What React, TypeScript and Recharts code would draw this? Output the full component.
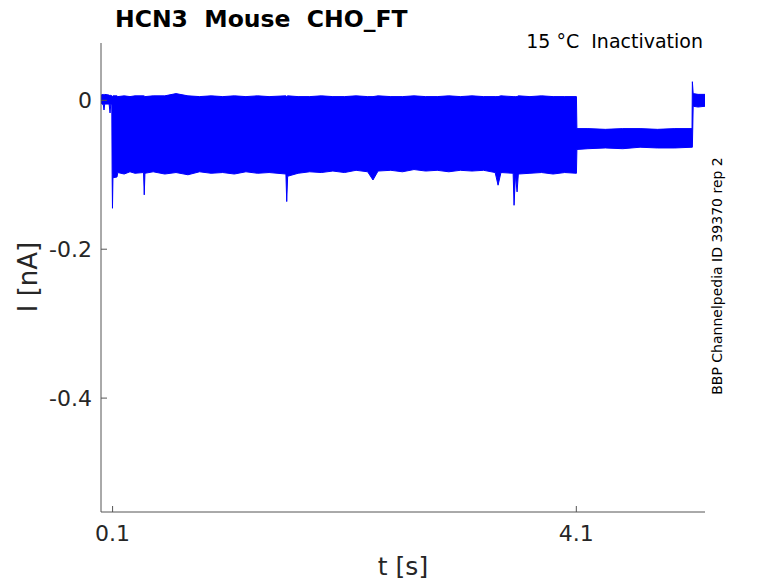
import { ComposedChart, Area, XAxis, YAxis } from 'recharts';

// Envelope of all sweeps (min / max current).
const timeS = [
  0.0, 0.02, 0.026, 0.032, 0.07, 0.078, 0.084, 0.093,
  0.096, 0.099, 0.103, 0.138, 0.145, 0.2, 0.25, 0.293, 0.367, 0.373, 0.379,
  0.45, 0.55, 0.647, 0.75, 0.85, 0.95, 1.05, 1.15, 1.25, 1.35, 1.45, 1.595,
  1.602, 1.61, 1.7, 1.8, 1.9, 2.0, 2.1, 2.2, 2.3, 2.346, 2.39, 2.5, 2.6,
  2.7, 2.8, 2.9, 3.0, 3.1, 3.2, 3.3, 3.4, 3.425, 3.45, 3.555, 3.563, 3.575,
  3.589, 3.6, 3.7, 3.8, 3.9, 4.0, 4.101,
  4.105, 4.2, 4.35, 4.5, 4.65, 4.8, 4.95, 5.098,
  5.101, 5.108, 5.15, 5.21,
];

const lowerNA = [
  -0.004, -0.006, -0.013, -0.005, -0.005, -0.017, -0.006, -0.005,
  -0.1, -0.145, -0.104, -0.103, -0.097, -0.099, -0.096, -0.098, -0.097, -0.127, -0.098,
  -0.096, -0.099, -0.097, -0.1, -0.096, -0.098, -0.097, -0.099, -0.096, -0.098, -0.097, -0.099,
  -0.136, -0.102, -0.098, -0.096, -0.097, -0.095, -0.097, -0.094, -0.096, -0.107, -0.095, -0.094, -0.096,
  -0.093, -0.095, -0.094, -0.096, -0.094, -0.095, -0.094, -0.097, -0.114, -0.097, -0.098, -0.141, -0.1,
  -0.123, -0.099, -0.098, -0.097, -0.099, -0.097, -0.098,
  -0.066, -0.065, -0.064, -0.065, -0.063, -0.064, -0.064, -0.063,
  -0.063, -0.008, -0.009, -0.008,
];

const upperNA = [
  0.007, 0.008, 0.007, 0.008, 0.007, 0.006, 0.007, 0.006,
  0.005, 0.005, 0.006, 0.006, 0.005, 0.006, 0.005, 0.006, 0.006, 0.006, 0.005,
  0.006, 0.006, 0.009, 0.006, 0.005, 0.006, 0.005, 0.006, 0.005, 0.006, 0.005, 0.006,
  0.005, 0.006, 0.005, 0.005, 0.006, 0.005, 0.005, 0.006, 0.005, 0.005, 0.006, 0.005, 0.005,
  0.006, 0.005, 0.005, 0.006, 0.005, 0.006, 0.005, 0.005, 0.005, 0.006, 0.005, 0.005, 0.005,
  0.005, 0.006, 0.005, 0.006, 0.005, 0.005, 0.005,
  -0.038, -0.038, -0.039, -0.038, -0.038, -0.039, -0.038, -0.038,
  0.025, 0.009, 0.008, 0.008,
];

const xTicks = [0.1, 4.1];
const yTicks = [-0.4, -0.2, 0];

const FONT = 'DejaVu Sans';
const AXIS = '#555555';
const TEXT = '#262626';

const traceData = timeS.map((t, i) => ({ t, band: [lowerNA[i], upperNA[i]] }));

export default function App() {
  return (
    <div style={{ position: 'absolute', left: 0, top: 0, width: 778, height: 583, background: '#fff' }}>
      <ComposedChart
        width={778}
        height={583}
        data={traceData}
        margin={{ top: 43, right: 73, left: 0, bottom: 0 }}
      >
        <XAxis
          dataKey="t"
          type="number"
          domain={[0, 5.21]}
          allowDataOverflow
          ticks={xTicks}
          height={71}
          tickSize={-6}
          tickMargin={19}
          axisLine={{ stroke: AXIS }}
          tickLine={{ stroke: AXIS }}
          tick={{ fill: TEXT, fontSize: 22, fontFamily: FONT }}
        />
        <YAxis
          type="number"
          domain={[-0.553, 0.077]}
          allowDataOverflow
          ticks={yTicks}
          width={101}
          tickSize={-6}
          tickMargin={15}
          axisLine={{ stroke: AXIS }}
          tickLine={{ stroke: AXIS }}
          tick={{ fill: TEXT, fontSize: 22, fontFamily: FONT }}
        />
        <Area
          dataKey="band"
          type="linear"
          stroke="#0000ff"
          strokeWidth={1}
          fill="#0000ff"
          fillOpacity={1}
          dot={false}
          activeDot={false}
          isAnimationActive={false}
        />
      </ComposedChart>
      <svg
        width={778}
        height={583}
        style={{ position: 'absolute', left: 0, top: 0, pointerEvents: 'none' }}
        fontFamily={FONT}
      >
        <text x={115} y={27} fontSize={23.5} fontWeight="bold" fill="#000" style={{ whiteSpace: 'pre' }}>
          HCN3  Mouse  CHO_FT
        </text>
        <text x={703} y={48} fontSize={19} textAnchor="end" fill="#000" style={{ whiteSpace: 'pre' }}>
          15 °C  Inactivation
        </text>
        <text
          x={37}
          y={277}
          fontSize={26}
          textAnchor="middle"
          fill={TEXT}
          transform="rotate(-90 37 277)"
        >
          I [nA]
        </text>
        <text x={403} y={575} fontSize={25} textAnchor="middle" fill={TEXT}>
          t [s]
        </text>
        <text
          x={722}
          y={276}
          fontSize={14}
          textAnchor="middle"
          fill="#000"
          transform="rotate(-90 722 276)"
        >
          BBP Channelpedia ID 39370 rep 2
        </text>
      </svg>
    </div>
  );
}
